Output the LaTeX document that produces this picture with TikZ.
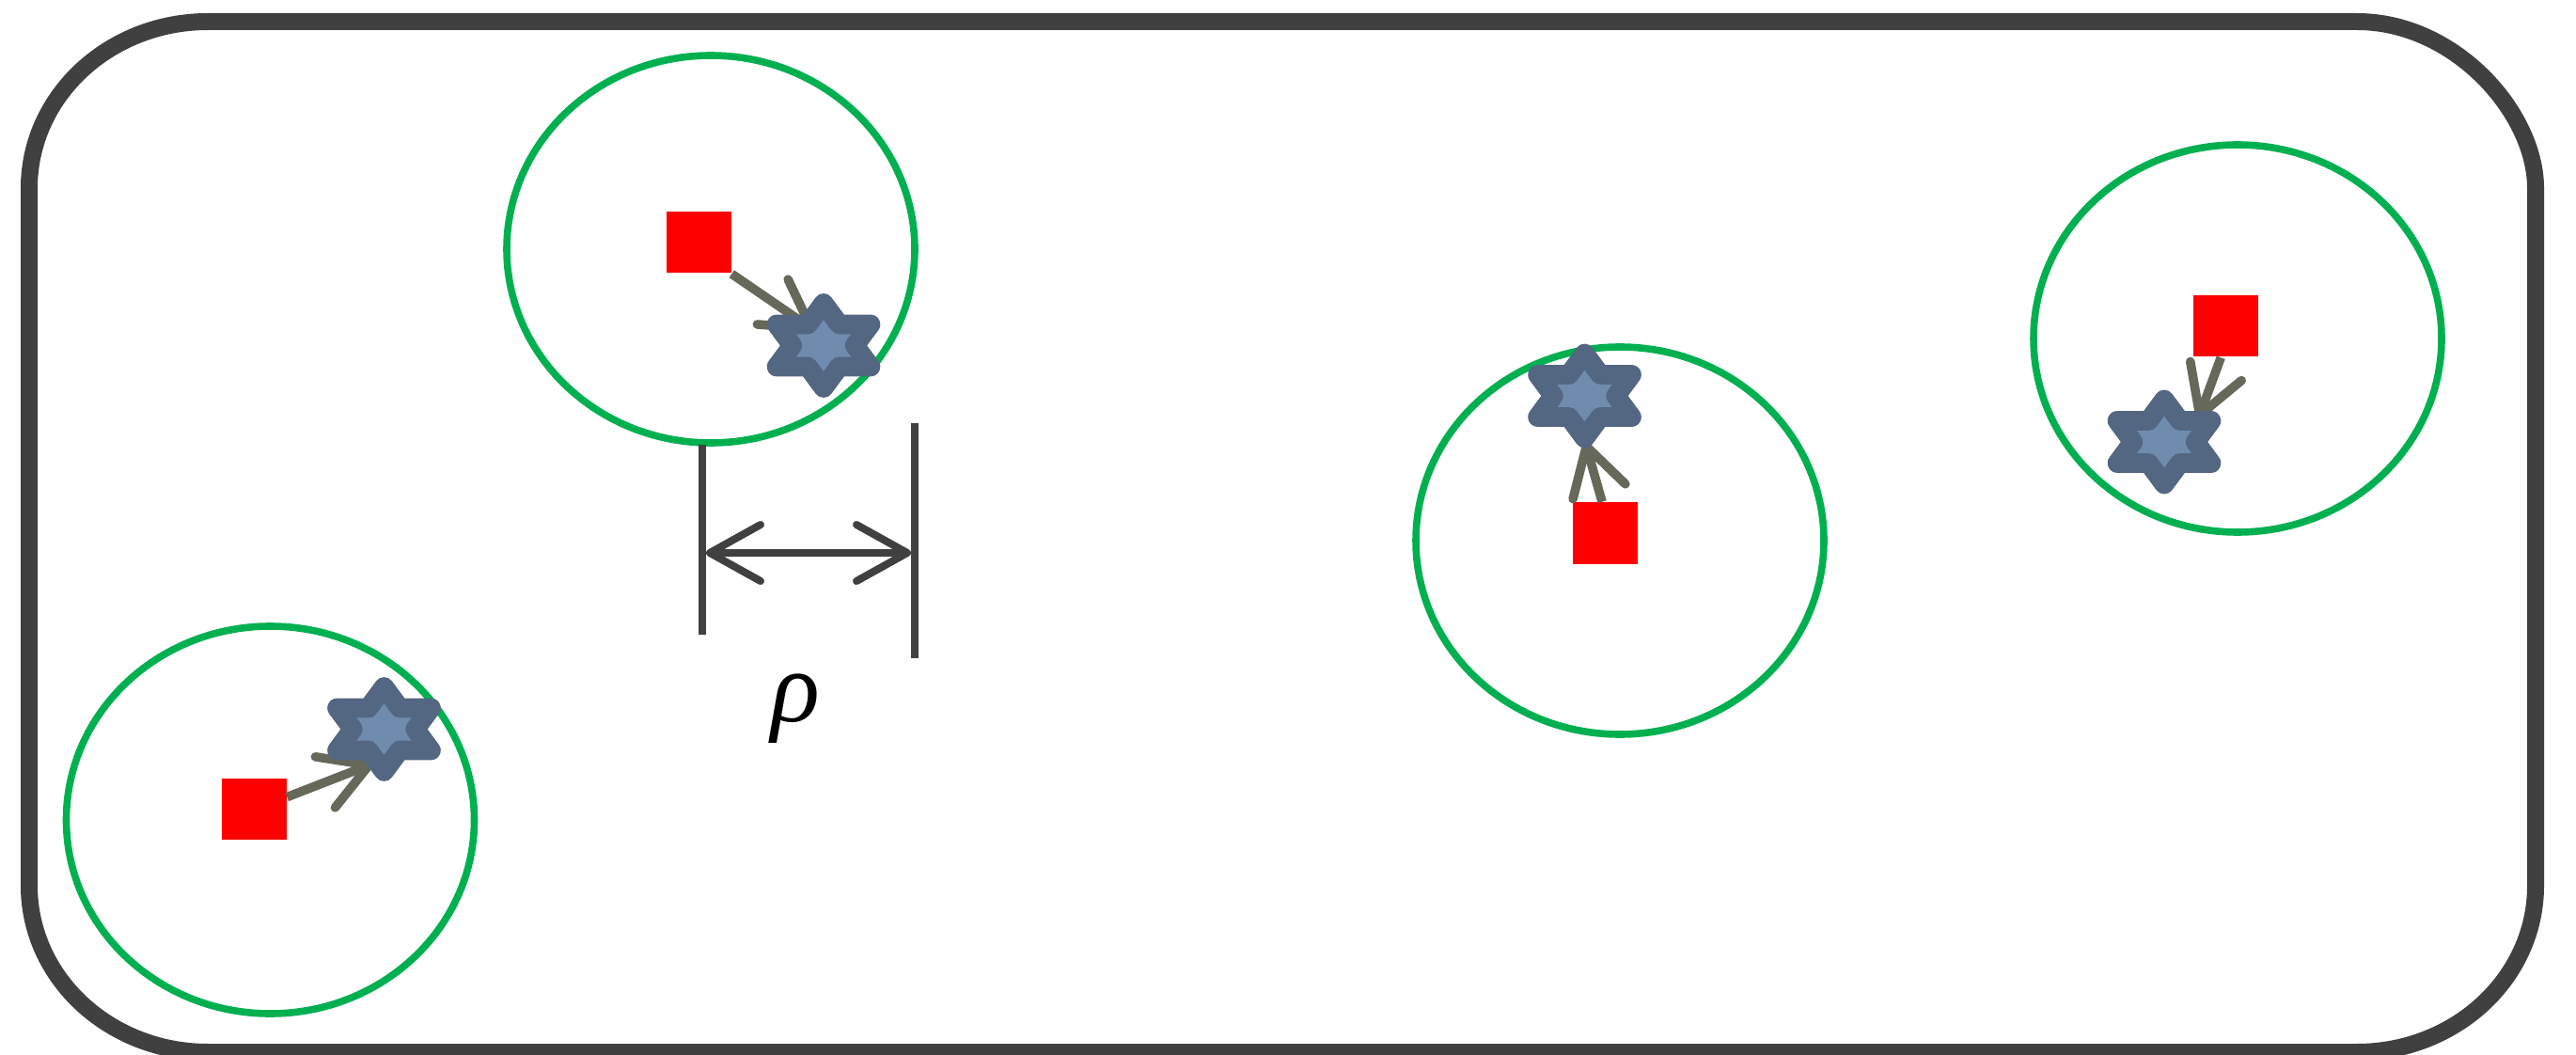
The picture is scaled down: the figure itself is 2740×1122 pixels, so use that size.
\documentclass[tikz,border=0pt]{standalone}
\usepackage{fontspec}
\newfontfamily\rhofont{Liberation Serif}
\usetikzlibrary{arrows.meta,shapes.geometric}
\definecolor{framegray}{HTML}{404040}
\definecolor{ellgreen}{HTML}{00B050}
\definecolor{arrgray}{HTML}{66685A}
\definecolor{starline}{HTML}{536682}
\definecolor{starfill}{HTML}{6F8CAF}
\begin{document}
\begin{tikzpicture}[x=0.25pt,y=-0.25pt,
  framebox/.style={draw=framegray,line width=4.5pt},
  zone/.style={draw=ellgreen,line width=1.9pt},
  target/.style={fill=red,inner sep=0pt,minimum width=17.25pt,minimum height=16.25pt},
  agent/.style={star,star points=6,star point ratio=1.732,minimum size=22.5pt,inner sep=0pt,xscale=1.28,draw=starline,fill=starfill,line width=5.2pt,line join=round},
  pull/.style={draw=arrgray,line width=2.4pt,-{Straight Barb[length=12.5pt,width=14.5pt,round]}},
  dimbar/.style={draw=framegray,line width=2pt},
  dimarrow/.style={draw=framegray,line width=2pt,{Straight Barb[length=13.5pt,width=15pt,round]}-{Straight Barb[length=13.5pt,width=15pt,round]}}
]
\useasboundingbox (0,0) rectangle (2740,1122);

% outer frame
\draw[framebox] (221,23) -- (2507,23)
  .. controls (2611.9,23) and (2697,120.8) .. (2697,200)
  -- (2697,942)
  .. controls (2697,1039.8) and (2611.9,1119) .. (2507,1119)
  -- (221,1119)
  .. controls (116.1,1119) and (31,1039.8) .. (31,942)
  -- (31,200)
  .. controls (31,102.2) and (116.1,23) .. (221,23) -- cycle;

% zones
\draw[zone] (756,265) ellipse [x radius=217, y radius=206];
\draw[zone] (287.5,872) ellipse [x radius=217, y radius=206];
\draw[zone] (1723,575) ellipse [x radius=217, y radius=206];
\draw[zone] (2380,360) ellipse [x radius=217, y radius=206];

% targets
\node[target] (sq1) at (743,258) {};
\node[target] (sq2) at (270,860.5) {};
\node[target] (sq3) at (1707,567) {};
\node[target] (sq4) at (2367.5,347) {};

% arrow tips
\coordinate (t1) at (867,352);
\coordinate (t2) at (397,812);
\coordinate (t3) at (1686,470);
\coordinate (t4) at (2338,446);

\draw[pull] (sq1.south east) -- (t1);
\draw[pull] (sq2.20) -- (t2);
\draw[pull] (sq3.95) -- (t3);
\draw[pull] (sq4.-99) -- (t4);

% agents
\node[agent] (st1) at (876,367.5) {};
\node[agent] (st2) at (408.5,775.5) {};
\node[agent] (st3) at (1685.5,421) {};
\node[agent] (st4) at (2302,470) {};

% dimension
\draw[dimbar] (747,473) -- (747,675);
\draw[dimbar] (973,450) -- (973,700);
\coordinate (dl) at (751,588);
\coordinate (dr) at (969,588);
\draw[dimarrow] (dl) -- (dr);
\node (rho) at (846,754) {\fontsize{27}{32}\selectfont\rhofont\itshape ρ};
\end{tikzpicture}
\end{document}
